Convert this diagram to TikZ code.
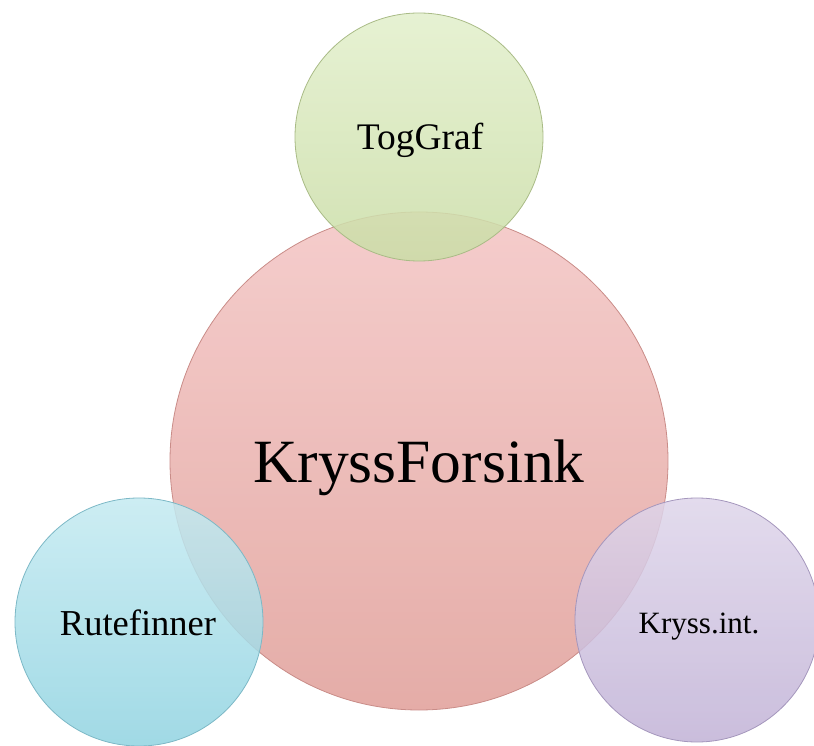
\documentclass[tikz,border=0pt]{standalone}
\usepackage{fontspec}
\setmainfont{Liberation Serif}
\definecolor{redtop}{HTML}{F3C4C3}
\definecolor{redbot}{HTML}{E09E98}
\definecolor{redline}{HTML}{C98C88}
\definecolor{grntop}{HTML}{E2EFCB}
\definecolor{grnbot}{HTML}{CADDA6}
\definecolor{grnline}{HTML}{A9BB86}
\definecolor{blutop}{HTML}{C4EAF1}
\definecolor{blubot}{HTML}{90D3E1}
\definecolor{bluline}{HTML}{7CB8C6}
\definecolor{purtop}{HTML}{DED5EA}
\definecolor{purbot}{HTML}{C1B2D6}
\definecolor{purline}{HTML}{A496BC}
\tikzset{
  bubble/.style={circle, inner sep=0pt, fill opacity=0.85, line width=0.8pt},
  lbl/.style={anchor=base, inner sep=0pt, text=black},
}
\begin{document}
\begin{tikzpicture}[x=1pt,y=1pt]
\useasboundingbox (0,0) rectangle (814,745);
\node[bubble, minimum size=498pt, draw=redline, top color=redtop, bottom color=redbot] (main) at (419,284) {};
\node[lbl, font=\fontsize{61.5}{62}\selectfont] (mainL) at (419,262) {KryssForsink};
\node[bubble, minimum size=248pt, draw=grnline, top color=grntop, bottom color=grnbot] (tog) at (419,608) {};
\node[lbl, font=\fontsize{37.5}{38}\selectfont] (togL) at (420,595) {TogGraf};
\node[bubble, minimum size=248pt, draw=bluline, top color=blutop, bottom color=blubot] (rute) at (139,123) {};
\node[lbl, font=\fontsize{36.5}{37}\selectfont] (ruteL) at (138,110) {Rutefinner};
\node[bubble, minimum size=244pt, draw=purline, top color=purtop, bottom color=purbot] (kryss) at (697,125) {};
\node[lbl, font=\fontsize{31}{32}\selectfont] (kryssL) at (699,112) {Kryss.int.};
\end{tikzpicture}
\end{document}
